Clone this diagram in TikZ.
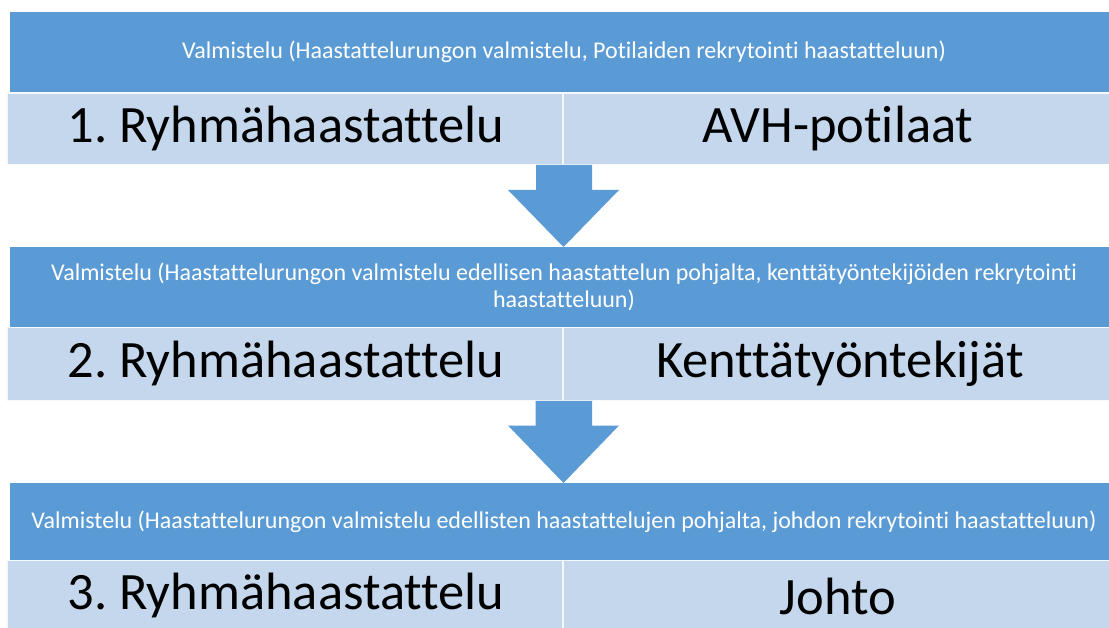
\documentclass[tikz,border=0pt]{standalone}
\usepackage{fontspec}
\setmainfont{Carlito}[Ligatures={NoCommon,NoContextual}]
\frenchspacing
\definecolor{darkblue}{HTML}{5B9BD5}
\definecolor{lightblue}{HTML}{C5D7EC}
\tikzset{
  bar/.style={fill=darkblue, draw=none},
  cell/.style={fill=lightblue, draw=white!85!lightblue, line width=1.2pt},
  bartext/.style={text=white, font=\fontsize{24}{27}\selectfont, align=center, inner sep=0pt},
  bigtext/.style={text=black, font=\fontsize{52.5}{60}\selectfont, inner sep=0pt},
  downarrow/.style={fill=darkblue, draw=none}
}
\begin{document}
\begin{tikzpicture}[x=1pt,y=-1pt]
\useasboundingbox (0,0) rectangle (1109,628);
% Row 1
\fill[bar] (9.5,12) rectangle (1109,92.5);
\draw[cell] (7,93) rectangle (563,164.5);
\draw[cell] (563,93) rectangle (1111,164.5);
\node[bartext] (v1) at (564,52) {Valmistelu (Haastattelurungon valmistelu, Potilaiden rekrytointi haastatteluun)};
\node[bigtext] (g1) at (286,129) {1. Ryhmähaastattelu};
\node[bigtext] (t1) at (838,129) {AVH-potilaat};
% Arrow 1
\fill[downarrow] (536,165) -- (592,165) -- (592,190) -- (619,190) -- (563.5,247) -- (508,190) -- (536,190) -- cycle;
% Row 2
\fill[bar] (9.5,247.5) rectangle (1109,327);
\draw[cell] (7,327.5) rectangle (563,400.5);
\draw[cell] (563,327.5) rectangle (1111,400.5);
\node[bartext] (v2) at (564,286.5) {Valmistelu (Haastattelurungon valmistelu edellisen haastattelun pohjalta, kenttätyöntekijöiden rekrytointi\\haastatteluun)};
\node[bigtext] (g2) at (286,364) {2. Ryhmähaastattelu};
\node[bigtext] (t2) at (840,364) {Kenttätyöntekijät};
% Arrow 2
\fill[downarrow] (535.5,401) -- (592,401) -- (592,425.5) -- (619,425.5) -- (563.5,483) -- (508,425.5) -- (535.5,425.5) -- cycle;
% Row 3
\fill[bar] (9.5,483) rectangle (1109,560);
\draw[cell] (7,560.5) rectangle (563,631);
\draw[cell] (563,560.5) rectangle (1111,631);
\node[bartext] (v3) at (564,522) {Valmistelu (Haastattelurungon valmistelu edellisten haastattelujen pohjalta, johdon rekrytointi haastatteluun)};
\node[bigtext] (g3) at (286,596) {3. Ryhmähaastattelu};
\node[bigtext] (t3) at (838,596) {Johto};
\end{tikzpicture}
\end{document}
